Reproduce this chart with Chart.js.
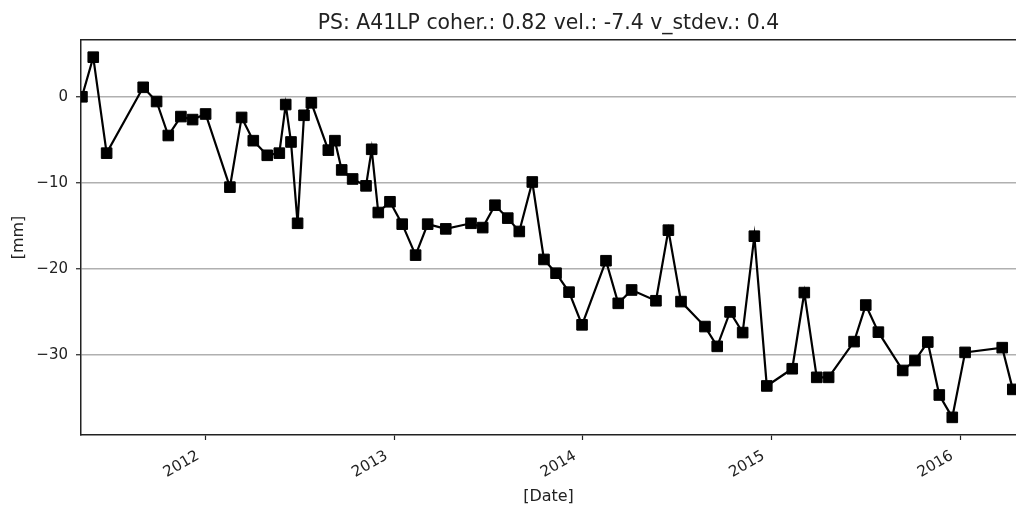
<!DOCTYPE html>
<html>
<head>
<meta charset="utf-8">
<script src="https://cdn.jsdelivr.net/npm/chart.js@4/dist/chart.umd.min.js"></script>
<style>
  html, body { margin: 0; padding: 0; background: #ffffff; }
  #wrap { width: 1016px; height: 509px; }
</style>
</head>
<body>
<div id="wrap"><canvas id="c" width="1016" height="509"></canvas></div>
<script>
// Acquisition epochs (fractional years) of the persistent scatterer time series
const epochs = [
  2011.342, 2011.402, 2011.473, 2011.667, 2011.738, 2011.800, 2011.867, 2011.929, 2011.998,
  2012.127, 2012.189, 2012.251, 2012.325, 2012.389, 2012.423, 2012.451, 2012.486, 2012.520,
  2012.559, 2012.649, 2012.684, 2012.720, 2012.778, 2012.849, 2012.879, 2012.914, 2012.976,
  2013.041, 2013.112, 2013.176, 2013.272, 2013.406, 2013.468, 2013.533, 2013.601, 2013.662,
  2013.731, 2013.793, 2013.857, 2013.926, 2013.995, 2014.122, 2014.187, 2014.258, 2014.387,
  2014.453, 2014.520, 2014.647, 2014.712, 2014.780, 2014.847, 2014.909, 2014.975, 2015.110,
  2015.174, 2015.240, 2015.303, 2015.438, 2015.500, 2015.567, 2015.696, 2015.761, 2015.829,
  2015.890, 2015.959, 2016.027, 2016.224, 2016.280
];

// Line-of-sight displacement in mm
const displacement = [
  0.0, 4.6, -6.55, 1.1, -0.55, -4.5, -2.3, -2.65, -2.0,
  -10.5, -2.4, -5.1, -6.8, -6.55, -0.9, -5.25, -14.7, -2.15,
  -0.7, -6.2, -5.1, -8.5, -9.55, -10.35, -6.1, -13.45, -12.2,
  -14.8, -18.4, -14.8, -15.35, -14.7, -15.2, -12.6, -14.1, -15.65,
  -9.9, -18.9, -20.5, -22.7, -26.5, -19.05, -24.0, -22.45, -23.7,
  -15.5, -23.8, -26.7, -29.0, -25.0, -27.4, -16.2, -33.6, -31.6,
  -22.75, -32.6, -32.6, -28.45, -24.2, -27.35, -31.8, -30.65, -28.5,
  -34.65, -37.25, -29.7, -29.15, -34.0
];

const yearTicks = [2012, 2013, 2014, 2015, 2016];
const mmTicks = [-30, -20, -10, 0];

const chartTitle = 'PS: A41LP coher.: 0.82 vel.: -7.4 v_stdev.: 0.4';

const FONT = 'DejaVu Sans';
const INK = '#222222';
const minus = v => String(v).replace('-', '\u2212');

const points = epochs.map((t, i) => ({ x: t, y: displacement[i] }));

const noSidePadding = s => { s.paddingLeft = 0; s.paddingRight = 0; s.paddingTop = 0; s.paddingBottom = 0; };

new Chart(document.getElementById('c'), {
  type: 'line',
  data: {
    datasets: [{
      data: points,
      borderColor: '#000000',
      borderWidth: 2.2,
      backgroundColor: '#000000',
      pointStyle: 'rect',
      pointRadius: 7.5,
      pointBorderWidth: 1,
      pointBorderColor: '#000000',
      pointBackgroundColor: '#000000',
      tension: 0,
      clip: 0
    }]
  },
  options: {
    responsive: false,
    devicePixelRatio: 1,
    animation: false,
    layout: { padding: 0, autoPadding: false },
    plugins: {
      legend: { display: false },
      tooltip: { enabled: false },
      title: {
        display: true,
        text: chartTitle,
        fullSize: false,
        color: INK,
        font: { family: FONT, size: 20.4, weight: 'normal' },
        padding: { top: 11, bottom: 4.5 }
      }
    },
    scales: {
      x: {
        type: 'linear',
        position: 'bottom',
        min: 2011.337,
        max: 2016.297,
        afterBuildTicks: s => { s.ticks = yearTicks.map(v => ({ value: v })); },
        afterFit: s => { s.height = 74; noSidePadding(s); },
        grid: { display: true, drawOnChartArea: false, drawTicks: true, tickLength: 5, tickColor: INK, tickWidth: 1.2 },
        border: { display: true, color: INK, width: 1.5 },
        ticks: {
          color: INK,
          font: { family: FONT, size: 15 },
          minRotation: 30,
          maxRotation: 30,
          padding: 7,
          labelOffset: -8,
          callback: v => String(v)
        },
        title: {
          display: true,
          text: '[Date]',
          color: INK,
          font: { family: FONT, size: 16 },
          padding: { top: 0, bottom: 2.4 }
        }
      },
      xTop: {
        type: 'linear',
        position: 'top',
        min: 2011.337,
        max: 2016.297,
        afterFit: s => { s.height = 0; noSidePadding(s); },
        grid: { display: false },
        ticks: { display: false },
        border: { display: true, color: INK, width: 1.5 }
      },
      y: {
        type: 'linear',
        position: 'left',
        min: -39.3,
        max: 6.6,
        afterBuildTicks: s => { s.ticks = mmTicks.map(v => ({ value: v })); },
        afterFit: s => { s.width = 81; noSidePadding(s); },
        grid: { display: true, color: '#b0b0b0', lineWidth: 1.5, drawTicks: true, tickLength: 5, tickColor: INK, tickWidth: 1.2 },
        border: { display: true, color: INK, width: 1.5 },
        ticks: {
          color: INK,
          font: { family: FONT, size: 15 },
          padding: 8,
          callback: v => minus(v)
        },
        title: {
          display: true,
          text: '[mm]',
          color: INK,
          font: { family: FONT, size: 16 },
          padding: { top: 9, bottom: 0 }
        }
      }
    }
  }
});
</script>
</body>
</html>
